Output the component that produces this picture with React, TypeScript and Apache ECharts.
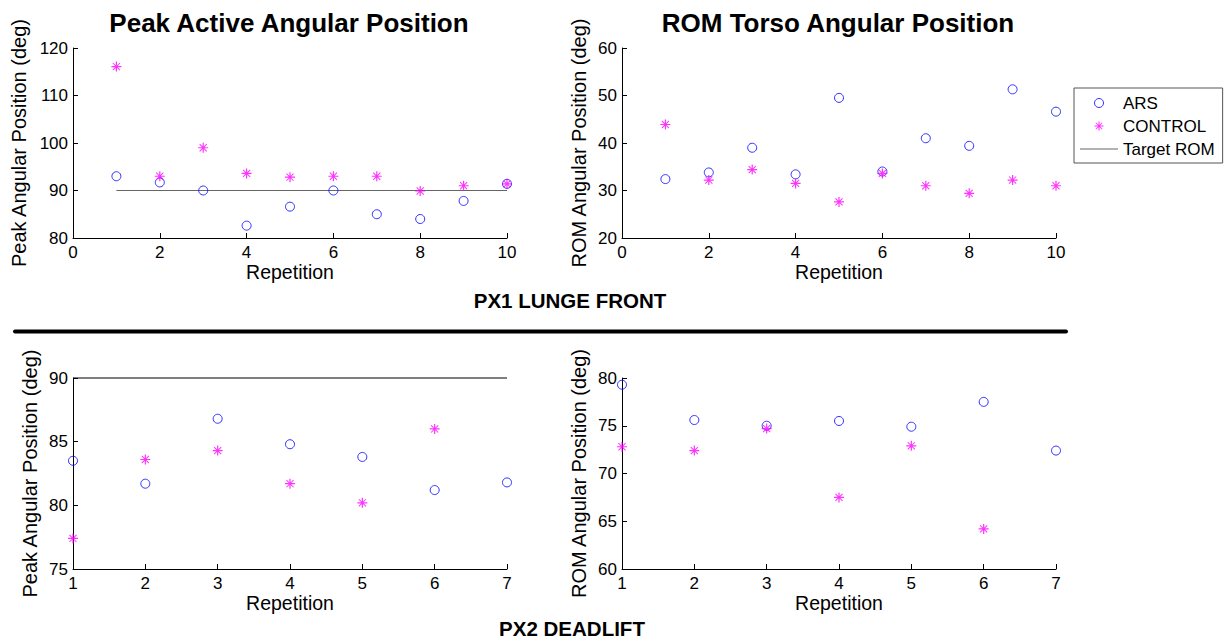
import React, { useEffect, useRef } from "react";
import * as echarts from "echarts";

const FONT = 'Arial, "Liberation Sans", sans-serif';

// ---- Data ----
const repsPX1 = [1, 2, 3, 4, 5, 6, 7, 8, 9, 10];
const px1PeakARS = [93.0, 91.7, 90.0, 82.6, 86.6, 90.0, 85.0, 84.0, 87.8, 91.4];
const px1PeakCONTROL = [116.1, 93.0, 99.0, 93.6, 92.8, 93.0, 93.0, 89.9, 91.0, 91.4];
const px1RomARS = [32.4, 33.8, 39.0, 33.4, 49.5, 34.0, 41.0, 39.4, 51.3, 46.6];
const px1RomCONTROL = [43.9, 32.2, 34.4, 31.5, 27.6, 33.6, 31.0, 29.4, 32.2, 31.0];

const repsPX2 = [1, 2, 3, 4, 5, 6, 7];
const px2PeakARS = [83.5, 81.7, 86.8, 84.8, 83.8, 81.2, 81.8];
const px2PeakCONTROL = [77.4, 83.6, 84.3, 81.7, 80.2, 86.0];
const px2RomARS = [79.3, 75.6, 75.0, 75.5, 74.9, 77.5, 72.4];
const px2RomCONTROL = [72.8, 72.4, 74.7, 67.5, 72.9, 64.2];

const targetROM = 90;
const targetPX1 = [1, 10];
const targetPX2 = [1, 7];

const titles = ["Peak Active Angular Position", "ROM Torso Angular Position"];
const sectionLabels = ["PX1 LUNGE FRONT", "PX2 DEADLIFT"];
const seriesNames = ["ARS", "CONTROL", "Target ROM"];

const STAR =
  "path://M8.8 0H11.2V20H8.8Z M0 8.8H20V11.2H0Z M3.6 2.2L17.8 16.4L16.4 17.8L2.2 3.6Z M16.4 2.2L17.8 3.6L3.6 17.8L2.2 16.4Z";
const LINE_ICON = "path://M0 0H38V1.2H0Z";

function pairs(xs: number[], ys: number[]) {
  return ys.map((y, i) => [xs[i], y]);
}

function xAxis(grid: number, min: number, max: number, interval: number) {
  return {
    type: "value",
    gridIndex: grid,
    min,
    max,
    interval,
    name: "Repetition",
    nameLocation: "middle",
    nameGap: 24,
    nameTextStyle: { fontFamily: FONT, fontSize: 19.5, color: "#000" },
    axisLine: { show: true, lineStyle: { color: "#000", width: 1 } },
    axisTick: { show: true, inside: true, length: 5, lineStyle: { color: "#000" } },
    axisLabel: { fontFamily: FONT, fontSize: 17, color: "#000", margin: 6 },
    splitLine: { show: false },
  };
}

function yAxis(grid: number, name: string, min: number, max: number, interval: number, gap: number) {
  return {
    type: "value",
    gridIndex: grid,
    min,
    max,
    interval,
    name,
    nameLocation: "middle",
    nameGap: gap,
    nameTextStyle: { fontFamily: FONT, fontSize: 20, color: "#000" },
    axisLine: { show: true, lineStyle: { color: "#000", width: 1 } },
    axisTick: { show: true, inside: true, length: 5, lineStyle: { color: "#000" } },
    axisLabel: { fontFamily: FONT, fontSize: 17, color: "#000", margin: 5 },
    splitLine: { show: false },
  };
}

function arsSeries(idx: number, xs: number[], ys: number[]) {
  return {
    type: "scatter",
    name: seriesNames[0],
    xAxisIndex: idx,
    yAxisIndex: idx,
    data: pairs(xs, ys),
    symbol: "circle",
    symbolSize: 9,
    clip: false,
    z: 3,
    itemStyle: { color: "rgba(0,0,0,0)", borderColor: "#0000ff", borderWidth: 1 },
  };
}

function ctrlSeries(idx: number, xs: number[], ys: number[]) {
  return {
    type: "scatter",
    name: seriesNames[1],
    xAxisIndex: idx,
    yAxisIndex: idx,
    data: pairs(xs, ys),
    symbol: STAR,
    symbolSize: 10,
    clip: false,
    z: 4,
    itemStyle: { color: "#ff00ff" },
  };
}

function targetSeries(idx: number, xs: number[], color: string) {
  return {
    type: "line",
    name: seriesNames[2],
    xAxisIndex: idx,
    yAxisIndex: idx,
    data: xs.map((x) => [x, targetROM]),
    symbol: "none",
    showSymbol: false,
    clip: false,
    z: 2,
    lineStyle: { color, width: 1.2 },
    itemStyle: { color },
  };
}

export default function App() {
  const ref = useRef<HTMLDivElement>(null);

  useEffect(() => {
    if (!ref.current) return;
    const chart = echarts.init(ref.current, undefined, { renderer: "svg" });
    const option: any = {
      animation: false,
      backgroundColor: "#fff",
      grid: [
        { left: 73, top: 48, width: 434, height: 190 },
        { left: 622, top: 48, width: 434, height: 190 },
        { left: 73, top: 378, width: 434, height: 191 },
        { left: 622, top: 378, width: 434, height: 191 },
      ],
      xAxis: [
        xAxis(0, 0, 10, 2),
        xAxis(1, 0, 10, 2),
        xAxis(2, 1, 7, 1),
        xAxis(3, 1, 7, 1),
      ],
      yAxis: [
        yAxis(0, "Peak Angular Position (deg)", 80, 120, 10, 44),
        yAxis(1, "ROM Angular Position (deg)", 20, 60, 10, 33),
        yAxis(2, "Peak Angular Position (deg)", 75, 90, 5, 33),
        yAxis(3, "ROM Angular Position (deg)", 60, 80, 5, 33),
      ],
      legend: {
        show: true,
        orient: "vertical",
        left: 1074,
        top: 88,
        padding: [6, 8, 5, 6],
        itemWidth: 38,
        itemHeight: 9,
        itemGap: 5,
        selectedMode: false,
        borderColor: "#555",
        borderWidth: 1,
        textStyle: { fontFamily: FONT, fontSize: 17, color: "#000", lineHeight: 18 },
        data: [
          {
            name: seriesNames[0],
            icon: "circle",
            itemStyle: { color: "rgba(0,0,0,0)", borderColor: "#0000ff", borderWidth: 1 },
          },
          { name: seriesNames[1], icon: STAR, itemStyle: { color: "#ff00ff" } },
          {
            name: seriesNames[2],
            icon: LINE_ICON,
            itemStyle: { color: "#666", borderWidth: 0 },
          },
        ],
      },
      graphic: [
        {
          type: "text",
          x: 289,
          y: 23,
          style: {
            text: titles[0],
            font: `bold 26px ${FONT}`,
            fill: "#000",
            textAlign: "center",
            textVerticalAlign: "middle",
          },
        },
        {
          type: "text",
          x: 838,
          y: 23,
          style: {
            text: titles[1],
            font: `bold 26px ${FONT}`,
            fill: "#000",
            textAlign: "center",
            textVerticalAlign: "middle",
          },
        },
        {
          type: "text",
          x: 570,
          y: 300,
          style: {
            text: sectionLabels[0],
            font: `bold 20.5px ${FONT}`,
            fill: "#000",
            textAlign: "center",
            textVerticalAlign: "middle",
          },
        },
        {
          type: "text",
          x: 572,
          y: 628,
          style: {
            text: sectionLabels[1],
            font: `bold 20.5px ${FONT}`,
            fill: "#000",
            textAlign: "center",
            textVerticalAlign: "middle",
          },
        },
        {
          type: "line",
          shape: { x1: 15, y1: 331.5, x2: 1066, y2: 331.5 },
          style: { stroke: "#000", lineWidth: 4, lineCap: "round" },
        },
      ],
      series: [
        targetSeries(0, targetPX1, "#666"),
        arsSeries(0, repsPX1, px1PeakARS),
        ctrlSeries(0, repsPX1, px1PeakCONTROL),
        arsSeries(1, repsPX1, px1RomARS),
        ctrlSeries(1, repsPX1, px1RomCONTROL),
        targetSeries(2, targetPX2, "#000"),
        arsSeries(2, repsPX2, px2PeakARS),
        ctrlSeries(2, repsPX2, px2PeakCONTROL),
        arsSeries(3, repsPX2, px2RomARS),
        ctrlSeries(3, repsPX2, px2RomCONTROL),
      ],
    };
    chart.setOption(option);
    return () => chart.dispose();
  }, []);

  return (
    <div
      ref={ref}
      style={{ position: "fixed", left: 0, top: 0, width: 1227, height: 641, background: "#fff" }}
    />
  );
}
